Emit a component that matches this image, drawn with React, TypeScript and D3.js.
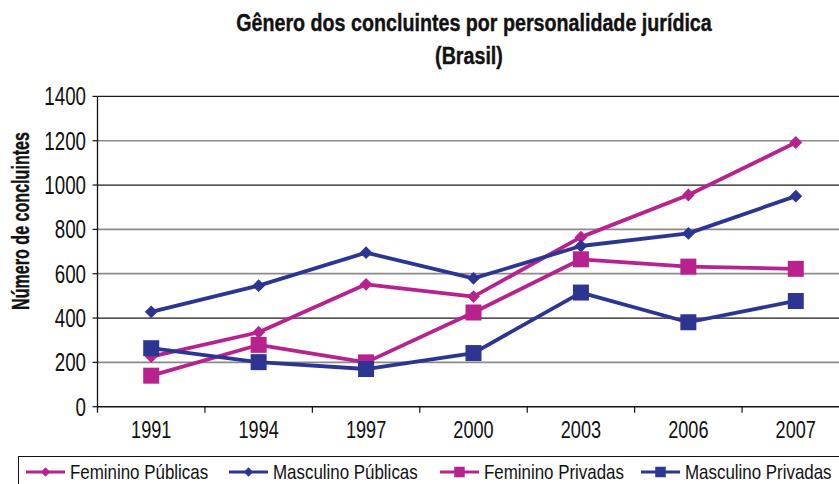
import { useRef, useEffect } from "react";
import * as d3 from "d3";

// anos no eixo x
const years = ["1991", "1994", "1997", "2000", "2003", "2006", "2007"];

// concluintes por série
const femininoPublicas = [226, 336, 552, 497, 765, 955, 1192];
const masculinoPublicas = [428, 546, 695, 579, 725, 782, 950];
const femininoPrivadas = [140, 279, 200, 425, 665, 632, 622];
const masculinoPrivadas = [264, 201, 170, 242, 515, 381, 477];

const yTicks = [0, 200, 400, 600, 800, 1000, 1200, 1400];

const MAGENTA = "#b7228f";
const BLUE = "#2c3592";
const FONT = "'Liberation Sans', Arial, sans-serif";

interface Serie {
  name: string;
  values: number[];
  color: string;
  symbol: "diamond" | "square";
}

const series: Serie[] = [
  { name: "Feminino Públicas", values: femininoPublicas, color: MAGENTA, symbol: "diamond" },
  { name: "Masculino Públicas", values: masculinoPublicas, color: BLUE, symbol: "diamond" },
  { name: "Feminino Privadas", values: femininoPrivadas, color: MAGENTA, symbol: "square" },
  { name: "Masculino Privadas", values: masculinoPrivadas, color: BLUE, symbol: "square" },
];

type Sel = d3.Selection<any, unknown, null, undefined>;

// texto "condensado": fonte normal comprimida na horizontal
function label(
  parent: Sel,
  x: number,
  y: number,
  text: string,
  size: number,
  k: number,
  anchor = "start",
  bold = false,
  rotate = 0
) {
  return parent
    .append("text")
    .attr("transform", `translate(${x},${y}) rotate(${rotate}) scale(${k},1)`)
    .attr("text-anchor", anchor)
    .style("font-family", FONT)
    .style("font-weight", bold ? "bold" : "normal")
    .style("font-size", `${size}px`)
    .attr("fill", "#111")
    .text(text);
}

export default function App() {
  const ref = useRef<SVGSVGElement | null>(null);

  useEffect(() => {
    const svg = d3.select(ref.current) as Sel;
    svg.selectAll("*").remove();

    const width = 839;
    const height = 484;
    const left = 97.5;
    const right = 849.5; // a borda direita sai da imagem
    const top = 96.4;
    const bottom = 406.7;

    const x = d3.scaleBand<string>().domain(years).range([left, right]);
    const y = d3.scaleLinear().domain([0, 1400]).range([bottom, top]);

    svg.append("rect").attr("width", width).attr("height", height).attr("fill", "#fff");

    // títulos
    label(svg, 474, 31, "Gênero dos concluintes por personalidade jurídica", 24, 0.82, "middle", true)
      .attr("stroke", "#111")
      .attr("stroke-width", 0.4);
    label(svg, 469, 64, "(Brasil)", 24, 0.82, "middle", true)
      .attr("stroke", "#111")
      .attr("stroke-width", 0.4);

    // grade
    const dark = (v: number) => v === 400 || v === 1000 || v === 1400;
    svg
      .append("g")
      .selectAll("line")
      .data(yTicks.filter((t) => t > 0))
      .enter()
      .append("line")
      .attr("x1", left)
      .attr("x2", width)
      .attr("y1", (d) => y(d))
      .attr("y2", (d) => y(d))
      .attr("stroke", (d) => (dark(d) ? "#1a1a1a" : "#8a8a8a"))
      .attr("stroke-width", (d) => (dark(d) ? 1.3 : 1.7));

    // eixo y
    svg
      .append("line")
      .attr("x1", left)
      .attr("x2", left)
      .attr("y1", top)
      .attr("y2", bottom + 6)
      .attr("stroke", "#111")
      .attr("stroke-width", 1.3);
    svg
      .append("g")
      .selectAll("line")
      .data(yTicks)
      .enter()
      .append("line")
      .attr("x1", left - 5)
      .attr("x2", left)
      .attr("y1", (d) => y(d))
      .attr("y2", (d) => y(d))
      .attr("stroke", "#111")
      .attr("stroke-width", 1.2);
    const fmt = d3.format("d");
    yTicks.forEach((t) => {
      label(svg, 86, y(t) + 9, fmt(t), 25, 0.75, "end");
    });

    // eixo x
    svg
      .append("line")
      .attr("x1", left)
      .attr("x2", width)
      .attr("y1", bottom)
      .attr("y2", bottom)
      .attr("stroke", "#111")
      .attr("stroke-width", 1.4);
    svg
      .append("g")
      .selectAll("line")
      .data(years.slice(1))
      .enter()
      .append("line")
      .attr("x1", (d) => x(d)!)
      .attr("x2", (d) => x(d)!)
      .attr("y1", bottom)
      .attr("y2", bottom + 6)
      .attr("stroke", "#111")
      .attr("stroke-width", 1.2);
    const cx = (i: number) => x(years[i])! + x.bandwidth() / 2;
    years.forEach((yr, i) => {
      label(svg, cx(i), 438, yr, 24.5, 0.74, "middle");
    });

    // título do eixo y
    label(svg, 29, 221, "Número de concluintes", 23, 0.7, "middle", true, -90)
      .attr("stroke", "#111")
      .attr("stroke-width", 0.4);

    const line = d3
      .line<number>()
      .x((_, i) => cx(i))
      .y((d) => y(d));

    const diamond = d3.symbol().type(d3.symbolDiamond2).size(105)();
    const square = d3.symbol().type(d3.symbolSquare).size(256)();

    series.forEach((s) => {
      const g = svg.append("g");
      g.append("path")
        .attr("d", line(s.values))
        .attr("fill", "none")
        .attr("stroke", s.color)
        .attr("stroke-width", 3.8)
        .attr("stroke-linejoin", "round");
      g.selectAll("path.m")
        .data(s.values)
        .enter()
        .append("path")
        .attr("class", "m")
        .attr("transform", (d, i) => `translate(${cx(i)},${y(d)})`)
        .attr("d", s.symbol === "diamond" ? diamond : square)
        .attr("fill", s.color);
    });

    // legenda
    svg
      .append("rect")
      .attr("x", 18.5)
      .attr("y", 456.5)
      .attr("width", 840)
      .attr("height", 40)
      .attr("fill", "#fff")
      .attr("stroke", "#111")
      .attr("stroke-width", 1);

    const legendX = [26, 229, 440, 641];
    const ly = 472;
    const legDiamond = d3.symbol().type(d3.symbolDiamond2).size(55)();
    const legSquare = d3.symbol().type(d3.symbolSquare).size(110)();
    series.forEach((s, i) => {
      const g = svg.append("g").attr("transform", `translate(${legendX[i]},${ly})`);
      g.append("line")
        .attr("x1", 0)
        .attr("x2", 39)
        .attr("stroke", s.color)
        .attr("stroke-width", 3);
      g.append("path")
        .attr("transform", "translate(19.5,0)")
        .attr("d", s.symbol === "diamond" ? legDiamond : legSquare)
        .attr("fill", s.color);
      label(g, 44, 7.3, s.name, 20.5, 0.825);
    });
  }, []);

  return (
    <svg
      ref={ref}
      width={839}
      height={484}
      style={{ position: "absolute", left: 0, top: 0, display: "block" }}
    ></svg>
  );
}
